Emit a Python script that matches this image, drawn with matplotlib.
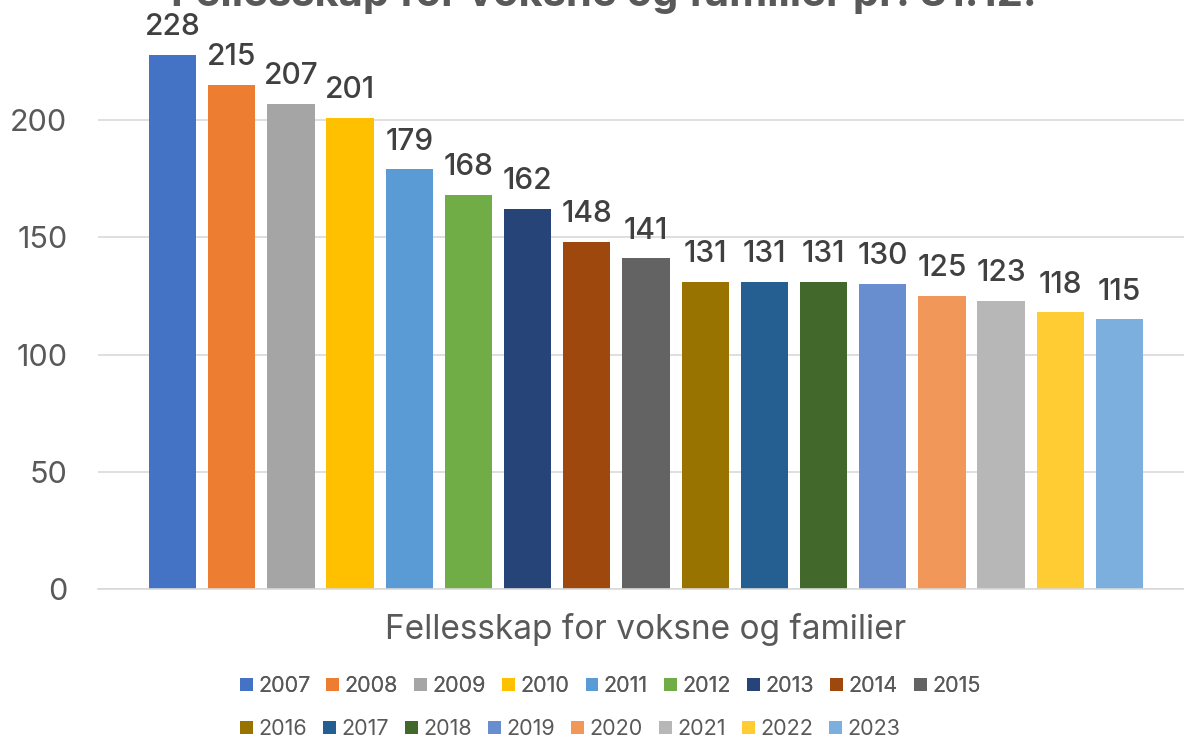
import matplotlib.pyplot as plt
import numpy as np

plt.rcParams['font.family'] = ['Inter', 'DejaVu Sans']

# data
years = ['2007', '2008', '2009', '2010', '2011', '2012', '2013', '2014', '2015',
         '2016', '2017', '2018', '2019', '2020', '2021', '2022', '2023']
values = [228, 215, 207, 201, 179, 168, 162, 148, 141,
          131, 131, 131, 130, 125, 123, 118, 115]
colors = ['#4472C4', '#ED7D31', '#A5A5A5', '#FFC000', '#5B9BD5', '#70AD47',
          '#264478', '#9E480E', '#636363', '#997300', '#255E91', '#43682B',
          '#698ED0', '#F1975A', '#B7B7B7', '#FFCD33', '#7CAFDD']
category = 'Fellesskap for voksne og familier'
title = 'Fellesskap for voksne og familier pr. 31.12.'

W, H = 1184, 738
fig = plt.figure(figsize=(W / 100, H / 100), dpi=100)
# axes spans past the right edge (chart is cropped)
left, right, top, bottom = 98, 1194, 3, 589
ax = fig.add_axes([left / W, 1 - bottom / H, (right - left) / W, (bottom - top) / H])

x = np.arange(len(values))
bars = ax.bar(x, values, width=0.8, color=colors, label=years, zorder=2)
for xi, v in zip(x, values):
    ax.annotate(str(v), (xi, v), xytext=(0, 10), textcoords='offset points',
                ha='center', va='bottom', fontsize=21.5, color='#404040',
                fontweight='medium', annotation_clip=False)

ax.set_xlim(-1.26, 17.26)
ax.set_ylim(0, 250)
ax.set_yticks([0, 50, 100, 150, 200])
ax.set_xticks([])
ax.tick_params(axis='y', length=0, labelsize=22, labelcolor='#595959', pad=22)
ax.grid(axis='y', color='#D9D9D9', linewidth=1.2, zorder=0)
for s in ['top', 'right', 'left']:
    ax.spines[s].set_visible(False)
ax.spines['bottom'].set_color('#D9D9D9')
ax.spines['bottom'].set_linewidth(1.2)

fig.text(646 / W, 1 - 630 / H, category, ha='center', va='center',
         fontsize=24, color='#595959')
fig.text(604 / W, 1 - 6 / H, title, ha='center', va='baseline',
         fontsize=30, fontweight='bold', color='#595959')

handles = list(bars)
opts = dict(loc='center left', frameon=False, fontsize=15.5, borderpad=0,
            handlelength=0.6, handleheight=0.6, handletextpad=0.25,
            columnspacing=0.75, labelcolor='#595959')
leg1 = fig.legend(handles[:9], years[:9], ncol=9,
                  bbox_to_anchor=(229 / W, 1 - 686 / H), **opts)
fig.legend(handles[9:], years[9:], ncol=8,
           bbox_to_anchor=(229 / W, 1 - 729 / H), **opts)
fig.add_artist(leg1)

fig.savefig('out.png', dpi=100)
